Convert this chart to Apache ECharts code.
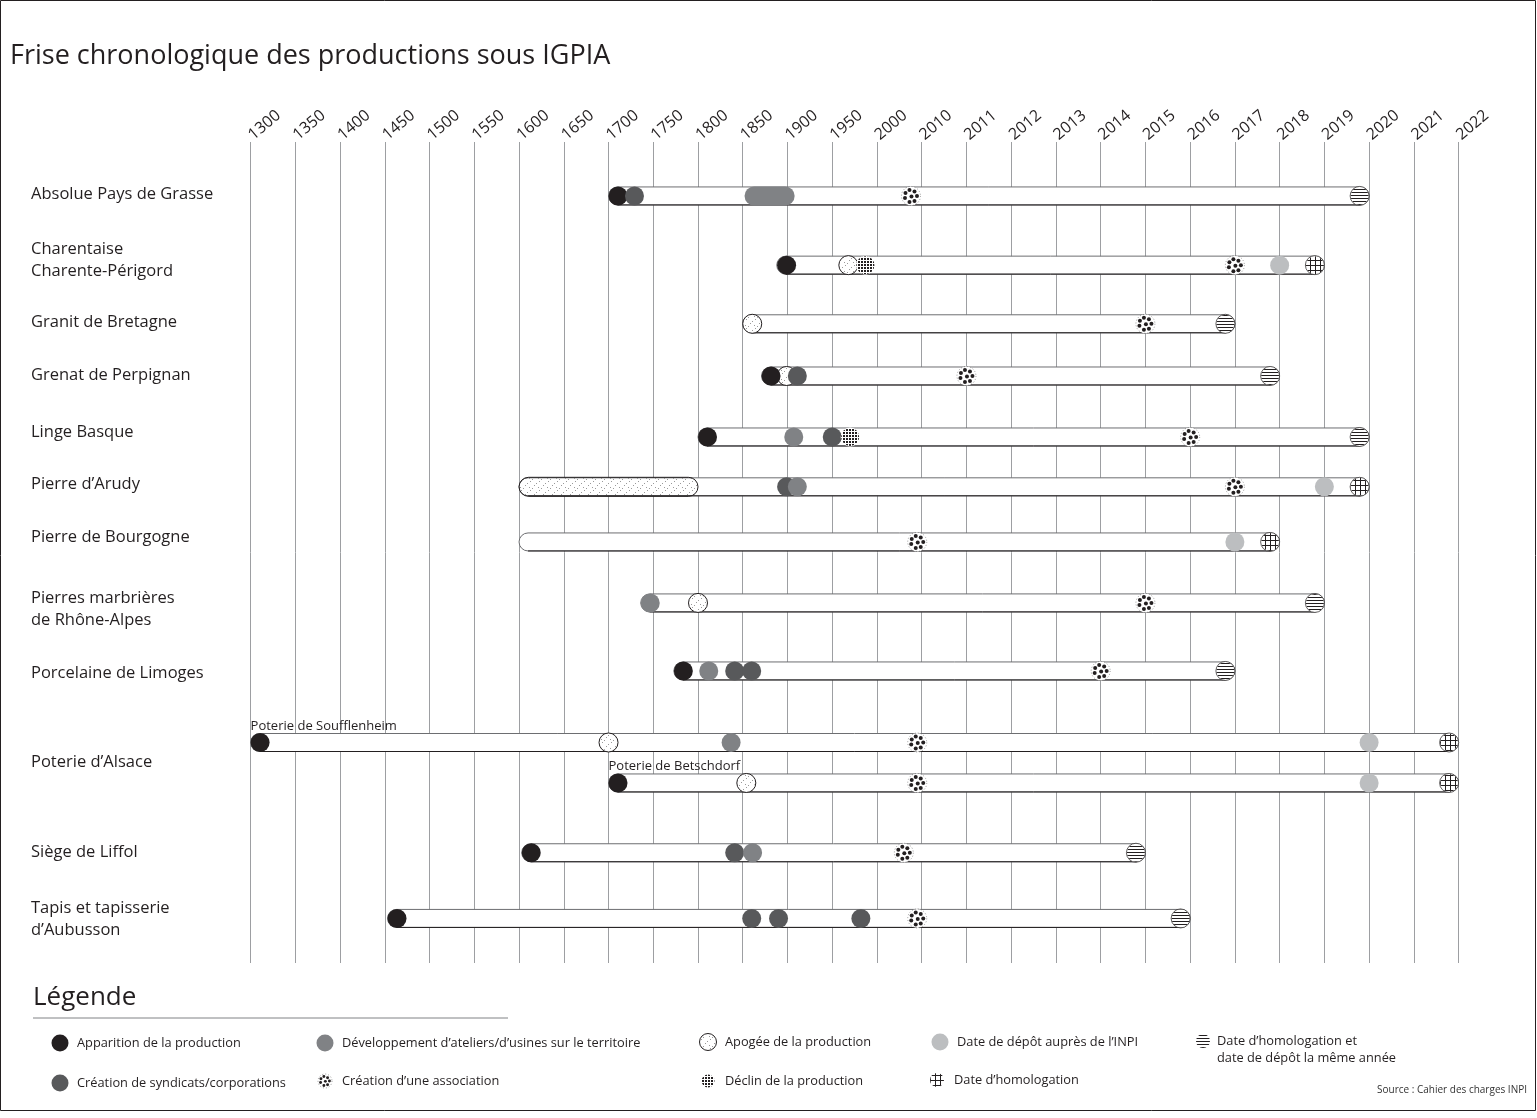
<!DOCTYPE html>
<html>
<head>
<meta charset="utf-8">
<title>Frise chronologique des productions sous IGPIA</title>
<script src="https://cdn.jsdelivr.net/npm/echarts@6/dist/echarts.min.js"></script>
<style>
  html, body { margin: 0; padding: 0; background: #fff; }
  #chart { width: 1537px; height: 1118px; }
</style>
</head>
<body>
<div id="chart"></div>
<script>
// graduations de la frise (pas irrégulier : 50 ans, puis 10 ans, puis 1 an)
const tickYears = [1300, 1350, 1400, 1450, 1500, 1550, 1600, 1650, 1700, 1750, 1800, 1850, 1900, 1950, 2000,
  2010, 2011, 2012, 2013, 2014, 2015, 2016, 2017, 2018, 2019, 2020, 2021, 2022];
const tickLabels = tickYears.map(String);

const productions = ['Absolue Pays de Grasse', 'Charentaise\nCharente-Périgord', 'Granit de Bretagne',
  'Grenat de Perpignan', 'Linge Basque', 'Pierre d’Arudy', 'Pierre de Bourgogne',
  'Pierres marbrières\nde Rhône-Alpes', 'Porcelaine de Limoges', 'Poterie d’Alsace', 'Siège de Liffol',
  'Tapis et tapisserie\nd’Aubusson'];

// frises (Poterie d'Alsace en a deux)
const barNote = ['', '', '', '', '', '', '', '', '', 'Poterie de Soufflenheim', 'Poterie de Betschdorf', '', ''];
const barStart = [1700, 1888, 1850, 1871, 1800, 1600, 1600, 1736, 1773, 1300, 1700, 1603, 1453];
const barEnd = [2020, 2019, 2017, 2018, 2020, 2020, 2018, 2019, 2017, 2022, 2022, 2015, 2016];

// événements : [frise, année]
const apparition = [[0, 1700], [1, 1899], [3, 1880], [4, 1800], [8, 1783], [9, 1300], [10, 1700], [11, 1600], [12, 1450]];
const developpement = [[4, 1907], [5, 1911], [7, 1746], [8, 1812], [9, 1837], [11, 1861]];
const developpementPeriode = [[0, 1852, 1908]];
const syndicats = [[0, 1729], [3, 1911], [4, 1950], [5, 1899], [8, 1841], [8, 1860], [11, 1841], [12, 1860], [12, 1890], [12, 1982]];
const apogee = [[1, 1968], [2, 1850], [3, 1899], [7, 1800], [9, 1700], [10, 1854]];
const apogeePeriode = [[5, 1600, 1800]];
const declin = [[1, 1987], [4, 1970]];
const association = [[0, 2007.6], [1, 2017], [2, 2015], [3, 2011], [4, 2016], [5, 2017], [6, 2009], [7, 2015],
  [8, 2014], [9, 2009], [10, 2009], [11, 2006], [12, 2009]];
const depotINPI = [[1, 2018], [5, 2019], [6, 2017], [9, 2020], [10, 2020]];
const homologation = [[1, 2019], [5, 2020], [6, 2018], [9, 2022], [10, 2022]];
const homologDepot = [[0, 2020], [2, 2017], [3, 2018], [4, 2020], [7, 2019], [8, 2017], [11, 2015], [12, 2016]];

// mise en page verticale (unités de l'axe y)
const labelSlot = [0.90, 2.01, 3.07, 3.97, 4.95, 5.83, 6.74, 7.96, 9.06, 10.57, 12.12, 13.26];
const barSlot = [0.92, 2.10, 3.10, 3.99, 5.03, 5.88, 6.82, 7.86, 9.02, 10.24, 10.93, 12.12, 13.24];

const FONT = '"Open Sans", "Noto Sans", sans-serif';
const INK = '#231f20';
const BAR_H = 18;
const R = 9.5;

function yearToIdx(y) {
  for (let i = 0; i < tickYears.length - 1; i++) {
    if (y <= tickYears[i + 1]) return i + (y - tickYears[i]) / (tickYears[i + 1] - tickYears[i]);
  }
  return tickYears.length - 1;
}

// motifs
function makePattern(w, h, draw) {
  const c = document.createElement('canvas');
  c.width = w; c.height = h;
  const ctx = c.getContext('2d');
  draw(ctx);
  return { image: c, repeat: 'repeat' };
}
const stripes = makePattern(4, 3, ctx => { ctx.fillStyle = INK; ctx.fillRect(0, 0, 4, 1); });
const hatch = makePattern(5, 5, ctx => { ctx.fillStyle = INK; ctx.fillRect(0, 0, 5, 1); ctx.fillRect(0, 0, 1, 5); });
const dotGrid = makePattern(3, 3, ctx => { ctx.fillStyle = INK; ctx.fillRect(0, 0, 2, 2); });
const stipple = makePattern(9, 9, ctx => {
  ctx.fillStyle = '#9a9a9a';
  [[1, 2], [5, 6], [7, 1], [3, 8], [8, 4]].forEach(p => ctx.fillRect(p[0], p[1], 1, 1));
});

const assocDots = [[-1.5, -6], [3.5, -4.5], [6, 0], [3.5, 5], [-1.5, 6], [-6, 2], [-5.5, -3], [0.5, 0.5]];

function drawSolid(color) {
  return (x, y, r) => ({ type: 'circle', shape: { cx: x, cy: y, r }, style: { fill: color } });
}
function drawApogee(x, y, r) {
  return {
    type: 'group', children: [
      { type: 'circle', shape: { cx: x, cy: y, r }, style: { fill: '#fff', stroke: INK, lineWidth: 1 } },
      { type: 'circle', shape: { cx: x, cy: y, r: r - 1 }, style: { fill: stipple } }
    ]
  };
}
function drawPattern(pattern, outline) {
  return (x, y, r) => ({
    type: 'group', children: [
      { type: 'circle', shape: { cx: x, cy: y, r }, style: { fill: '#fff', stroke: outline ? INK : null, lineWidth: 0.7 } },
      { type: 'circle', shape: { cx: x, cy: y, r: r - 0.5 }, style: { fill: pattern } }
    ]
  });
}
function drawAssociation(x, y, r) {
  const k = r / R;
  const children = [{ type: 'circle', shape: { cx: x, cy: y, r }, style: { fill: '#fff', stroke: '#555', lineWidth: 0.6, lineDash: [1, 2] } }];
  assocDots.forEach(d => children.push({ type: 'circle', shape: { cx: x + d[0] * k, cy: y + d[1] * k, r: 2 * k }, style: { fill: INK } }));
  return { type: 'group', children };
}

function markerSeries(name, list, draw) {
  return {
    type: 'custom', name,
    data: list.map(([b, yr]) => [yearToIdx(yr), barSlot[b], yearToIdx(barStart[b]), yearToIdx(barEnd[b])]),
    encode: { x: 0, y: 1 },
    renderItem: (params, api) => {
      const c = api.coord([api.value(0), api.value(1)]);
      const lo = api.coord([api.value(2), 0])[0] + R;
      const hi = api.coord([api.value(3), 0])[0] - R;
      return draw(Math.min(Math.max(c[0], lo), hi), c[1], R);
    }
  };
}
function periodSeries(name, list, fill, stroke) {
  return {
    type: 'custom', name,
    data: list.map(([b, y0, y1]) => [yearToIdx(y0), barSlot[b], yearToIdx(y1)]),
    encode: { x: 0, y: 1 },
    renderItem: (params, api) => {
      const s = api.coord([api.value(0), api.value(1)]);
      const e = api.coord([api.value(2), api.value(1)]);
      return {
        type: 'rect',
        shape: { x: s[0], y: s[1] - R, width: e[0] - s[0], height: 2 * R, r: R },
        style: { fill, stroke: stroke || null, lineWidth: 1 }
      };
    }
  };
}

const chart = echarts.init(document.getElementById('chart'));

const legendRows = [
  [60, 1043, drawSolid(INK), 8.5, 'Apparition de la production'],
  [60, 1083, drawSolid('#58595b'), 8.5, 'Création de syndicats/corporations'],
  [325, 1043, drawSolid('#808285'), 8.5, 'Développement d’ateliers/d’usines sur le territoire'],
  [325, 1081, drawAssociation, 7, 'Création d’une association'],
  [708, 1042, drawApogee, 8.5, 'Apogée de la production'],
  [708, 1081, drawPattern(dotGrid, false), 7, 'Déclin de la production'],
  [940, 1042, drawSolid('#bcbec0'), 8.5, 'Date de dépôt auprès de l’INPI'],
  [937, 1080, drawPattern(hatch, false), 7.5, 'Date d’homologation'],
  [1203, 1041, drawPattern(stripes, false), 7.5, 'Date d’homologation et\ndate de dépôt la même année']
];
const legendGraphics = [];
legendRows.forEach(([x, y, draw, r, text], i) => {
  legendGraphics.push(draw(x, y, r));
  legendGraphics.push({
    type: 'text', x: x + (i === 8 ? 14 : 17), y: y + (i === 8 ? 8.5 : 0),
    style: { text, font: '12.8px ' + FONT, fill: INK, verticalAlign: 'middle', lineHeight: 17 }
  });
});

chart.setOption({
  animation: false,
  backgroundColor: '#fff',
  textStyle: { fontFamily: FONT },
  title: {
    text: 'Frise chronologique des productions sous IGPIA',
    left: 5, top: 38,
    textStyle: { fontSize: 27, fontWeight: 'normal', color: INK, fontFamily: FONT }
  },
  grid: { left: 250.6, right: 78.4, top: 142, bottom: 155 },
  xAxis: {
    type: 'value', position: 'top', min: 0, max: tickYears.length - 1, interval: 1,
    axisLine: { show: false }, axisTick: { show: false },
    axisLabel: { rotate: 40, fontSize: 16, color: INK, margin: 5, formatter: v => tickLabels[v] },
    splitLine: { show: true, lineStyle: { color: '#9d9fa2', width: 1 } }
  },
  yAxis: { type: 'value', min: 0, max: 14, inverse: true, show: false, splitLine: { show: false } },
  graphic: [
    { type: 'rect', shape: { x: 0.5, y: 0.5, width: 1535, height: 1110 }, style: { fill: null, stroke: INK, lineWidth: 1 } },
    { type: 'text', x: 33, y: 998, style: { text: 'Légende', font: '26px ' + FONT, fill: INK, verticalAlign: 'middle' } },
    { type: 'line', shape: { x1: 33, y1: 1018, x2: 508, y2: 1018 }, style: { stroke: '#808285', lineWidth: 1 } },
    { type: 'text', x: 1527, y: 1090, style: { text: 'Source : Cahier des charges INPI', font: '10px ' + FONT, fill: '#333', align: 'right', verticalAlign: 'middle' } }
  ].concat(legendGraphics),
  series: [
    {
      type: 'custom', name: 'Productions',
      data: labelSlot.map((s, i) => [0, s, i]),
      encode: { x: 0, y: 1 },
      renderItem: (params, api) => {
        const p = api.coord([0, api.value(1)]);
        return {
          type: 'text', x: 31, y: p[1],
          style: { text: productions[params.dataIndex], font: '16.5px ' + FONT, fill: INK, verticalAlign: 'middle', lineHeight: 22 }
        };
      }
    },
    {
      type: 'custom', name: 'Frises',
      data: barSlot.map((s, i) => [yearToIdx(barStart[i]), s, yearToIdx(barEnd[i])]),
      encode: { x: 0, y: 1 },
      renderItem: (params, api) => {
        const s = api.coord([api.value(0), api.value(1)]);
        const e = api.coord([api.value(2), api.value(1)]);
        const h = BAR_H;
        const children = [
          { type: 'rect', shape: { x: s[0], y: s[1] - h / 2, width: e[0] - s[0], height: h, r: h / 2 }, style: { fill: '#fff', stroke: '#6d6e71', lineWidth: 1 } },
          { type: 'line', shape: { x1: s[0] + h / 2, y1: s[1] + h / 2, x2: e[0] - h / 2, y2: s[1] + h / 2 }, style: { stroke: INK, lineWidth: 1 } }
        ];
        const note = barNote[params.dataIndex];
        if (note) {
          children.push({ type: 'text', x: s[0], y: s[1] - h / 2 - 1, style: { text: note, font: '13px ' + FONT, fill: INK, verticalAlign: 'bottom' } });
        }
        return { type: 'group', children };
      }
    },
    periodSeries('Apogée (période)', apogeePeriode, stipple, INK),
    periodSeries('Développement (période)', developpementPeriode, '#808285'),
    markerSeries('Apogée de la production', apogee, drawApogee),
    markerSeries('Apparition de la production', apparition, drawSolid(INK)),
    markerSeries('Création de syndicats/corporations', syndicats, drawSolid('#58595b')),
    markerSeries('Développement d’ateliers/d’usines sur le territoire', developpement, drawSolid('#808285')),
    markerSeries('Déclin de la production', declin, drawPattern(dotGrid, false)),
    markerSeries('Création d’une association', association, drawAssociation),
    markerSeries('Date de dépôt auprès de l’INPI', depotINPI, drawSolid('#bcbec0')),
    markerSeries('Date d’homologation', homologation, drawPattern(hatch, true)),
    markerSeries('Date d’homologation et date de dépôt la même année', homologDepot, drawPattern(stripes, true))
  ]
});
</script>
</body>
</html>
